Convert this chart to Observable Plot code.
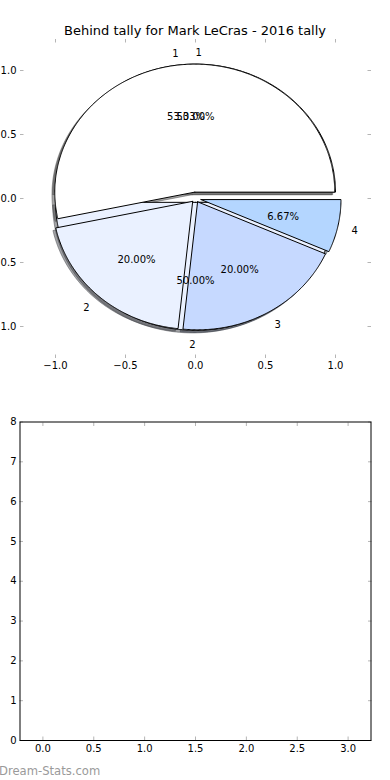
<!DOCTYPE html>
<html><head><meta charset="utf-8">
<script src="https://cdn.jsdelivr.net/npm/d3@7"></script>
<script src="https://cdn.jsdelivr.net/npm/@observablehq/plot@0.6"></script>
<style>
body{margin:0;background:#fff;}
#wrap{position:relative;width:390px;height:780px;overflow:hidden;font-family:"DejaVu Sans",sans-serif;background:#fff;}
#title{position:absolute;top:24px;left:0;width:390px;text-align:center;font-size:13px;line-height:13px;color:#000;}
#top{position:absolute;left:0;top:0;}
#bottom{position:absolute;left:0;top:390px;}
#wm{position:absolute;left:-1px;top:765px;font-size:11.6px;line-height:12px;color:#9a9a9a;white-space:nowrap;}
</style></head><body>
<div id="wrap">
  <div id="top"></div>
  <div id="title">Behind tally for Mark LeCras - 2016 tally</div>
  <div id="bottom"></div>
  <div id="wm">Dream-Stats.com</div>
</div>
<script>
// ---- data ----
const pieALabels = ["1", "2", "3", "4"];
const pieAValues = [8, 3, 3, 1];
const pieAColors = ["#ffffff", "#eaf1ff", "#c6d9ff", "#b4d6ff"];
const pieAExplode = [0.05, 0.03, 0.03, 0.04];
const pieBLabels = ["1", "2"];
const pieBValues = [1, 1];
const pieBColors = ["#ffffff", "#eaf1ff"];
const pieBExplode = [0.05, 0.03];
const topXTicks = [-1, -0.5, 0, 0.5, 1];
const topYTicks = [-1, -0.5, 0, 0.5, 1];
const bottomXTicks = [0, 0.5, 1, 1.5, 2, 2.5, 3];
const bottomYTicks = [0, 1, 2, 3, 4, 5, 6, 7, 8];

// ---- build wedges ----
function buildPie(values, colors, labels, explode) {
  const total = d3.sum(values);
  let acc = 0;
  return values.map((v, i) => {
    const ex = explode[i];
    const t1 = acc / total * 360; acc += v; const t2 = acc / total * 360;
    const tm = (t1 + t2) / 2 * Math.PI / 180;
    const cx = ex * Math.cos(tm), cy = ex * Math.sin(tm);
    const n = Math.max(4, Math.ceil((t2 - t1) * 2));
    const pts = [{x: cx, y: cy}];
    for (let k = 0; k <= n; k++) {
      const a = (t1 + (t2 - t1) * k / n) * Math.PI / 180;
      pts.push({x: cx + Math.cos(a), y: cy + Math.sin(a)});
    }
    pts.push({x: cx, y: cy});
    const lx = 1.1 * Math.cos(tm), ly = 1.1 * Math.sin(tm);
    return {
      pts, color: colors[i],
      label: {x: cx + lx, y: cy + ly, text: labels[i], anchor: lx > 0 ? "start" : "end"},
      pct: {x: cx + 0.6 * Math.cos(tm), y: cy + 0.6 * Math.sin(tm), text: (v / total * 100).toFixed(2) + "%"}
    };
  });
}
const pieA = buildPie(pieAValues, pieAColors, pieALabels, pieAExplode);
const pieB = buildPie(pieBValues, pieBColors, pieBLabels, pieBExplode);

function shade(c) {
  const r = d3.rgb(c);
  return d3.rgb(r.r * 0.3, r.g * 0.3, r.b * 0.3).formatHex();
}

const tickGray = "#b5b5b5";
const fmt1 = d3.format(".1f");

const topMarks = [];
// shadows (below every wedge)
for (const w of [...pieB, ...pieA]) {
  const s = shade(w.color);
  topMarks.push(Plot.line(w.pts, {x: d => d.x - 0.02, y: d => d.y - 0.02, fill: s, fillOpacity: 0.5, stroke: s, strokeOpacity: 0.5, strokeWidth: 1}));
}
// wedges: pie B first, pie A on top
for (const w of [...pieB, ...pieA]) {
  topMarks.push(Plot.line(w.pts, {x: "x", y: "y", fill: w.color, stroke: "#000", strokeWidth: 1, strokeLinejoin: "miter"}));
}
const allLabels = [...pieA, ...pieB].map(w => w.label);
const allPcts = [...pieA, ...pieB].map(w => w.pct);
topMarks.push(
  Plot.text(allLabels.filter(d => d.anchor === "start"), {x: "x", y: "y", text: "text", textAnchor: "start", fontSize: 10, dy: 1.5, fill: "#000"}),
  Plot.text(allLabels.filter(d => d.anchor === "end"), {x: "x", y: "y", text: "text", textAnchor: "end", fontSize: 10, dy: 1.5, fill: "#000"}),
  Plot.text(allPcts, {x: "x", y: "y", text: "text", fontSize: 10, dy: 1.5, fill: "#000"}),
  Plot.axisX({ticks: topXTicks, anchor: "bottom", tickSize: -3.5, tickPadding: 7, stroke: tickGray, fill: "#000", tickFormat: fmt1, label: null}),
  Plot.axisX({ticks: topXTicks, anchor: "top", tickSize: -3.5, stroke: tickGray, fill: "none", label: null}),
  Plot.axisY({ticks: topYTicks, anchor: "left", tickSize: -3.5, tickPadding: 7.5, stroke: tickGray, fill: "#000", tickFormat: fmt1, label: null}),
  Plot.axisY({ticks: topYTicks, anchor: "right", tickSize: -3.5, stroke: tickGray, fill: "none", label: null})
);

const topChart = Plot.plot({
  width: 390, height: 390,
  marginTop: 38, marginBottom: 32, marginLeft: 20, marginRight: 20,
  style: {fontFamily: "DejaVu Sans", fontSize: "10px", background: "transparent", color: "#000", overflow: "visible"},
  x: {domain: [-1.25, 1.25], axis: null},
  y: {domain: [-1.25, 1.25], axis: null},
  marks: topMarks
});
document.getElementById("top").appendChild(topChart);

const bottomChart = Plot.plot({
  width: 390, height: 390,
  marginTop: 31.5, marginBottom: 40, marginLeft: 19.5, marginRight: 19.5,
  style: {fontFamily: "DejaVu Sans", fontSize: "10px", background: "transparent", color: "#000", overflow: "visible"},
  x: {domain: [-0.225, 3.225], axis: null},
  y: {domain: [0, 8], axis: null},
  marks: [
    Plot.axisX({ticks: bottomXTicks, anchor: "bottom", tickSize: -3.5, tickPadding: 8, stroke: tickGray, fill: "#000", tickFormat: fmt1, label: null}),
    Plot.axisX({ticks: bottomXTicks, anchor: "top", tickSize: -3.5, stroke: tickGray, fill: "none", label: null}),
    Plot.axisY({ticks: bottomYTicks, anchor: "left", tickSize: -3.5, tickPadding: 7, stroke: tickGray, fill: "#000", tickFormat: d3.format("d"), label: null}),
    Plot.axisY({ticks: bottomYTicks, anchor: "right", tickSize: -3.5, stroke: tickGray, fill: "none", label: null}),
    Plot.frame({stroke: "#000", strokeWidth: 1})
  ]
});
document.getElementById("bottom").appendChild(bottomChart);
</script>
</body></html>
